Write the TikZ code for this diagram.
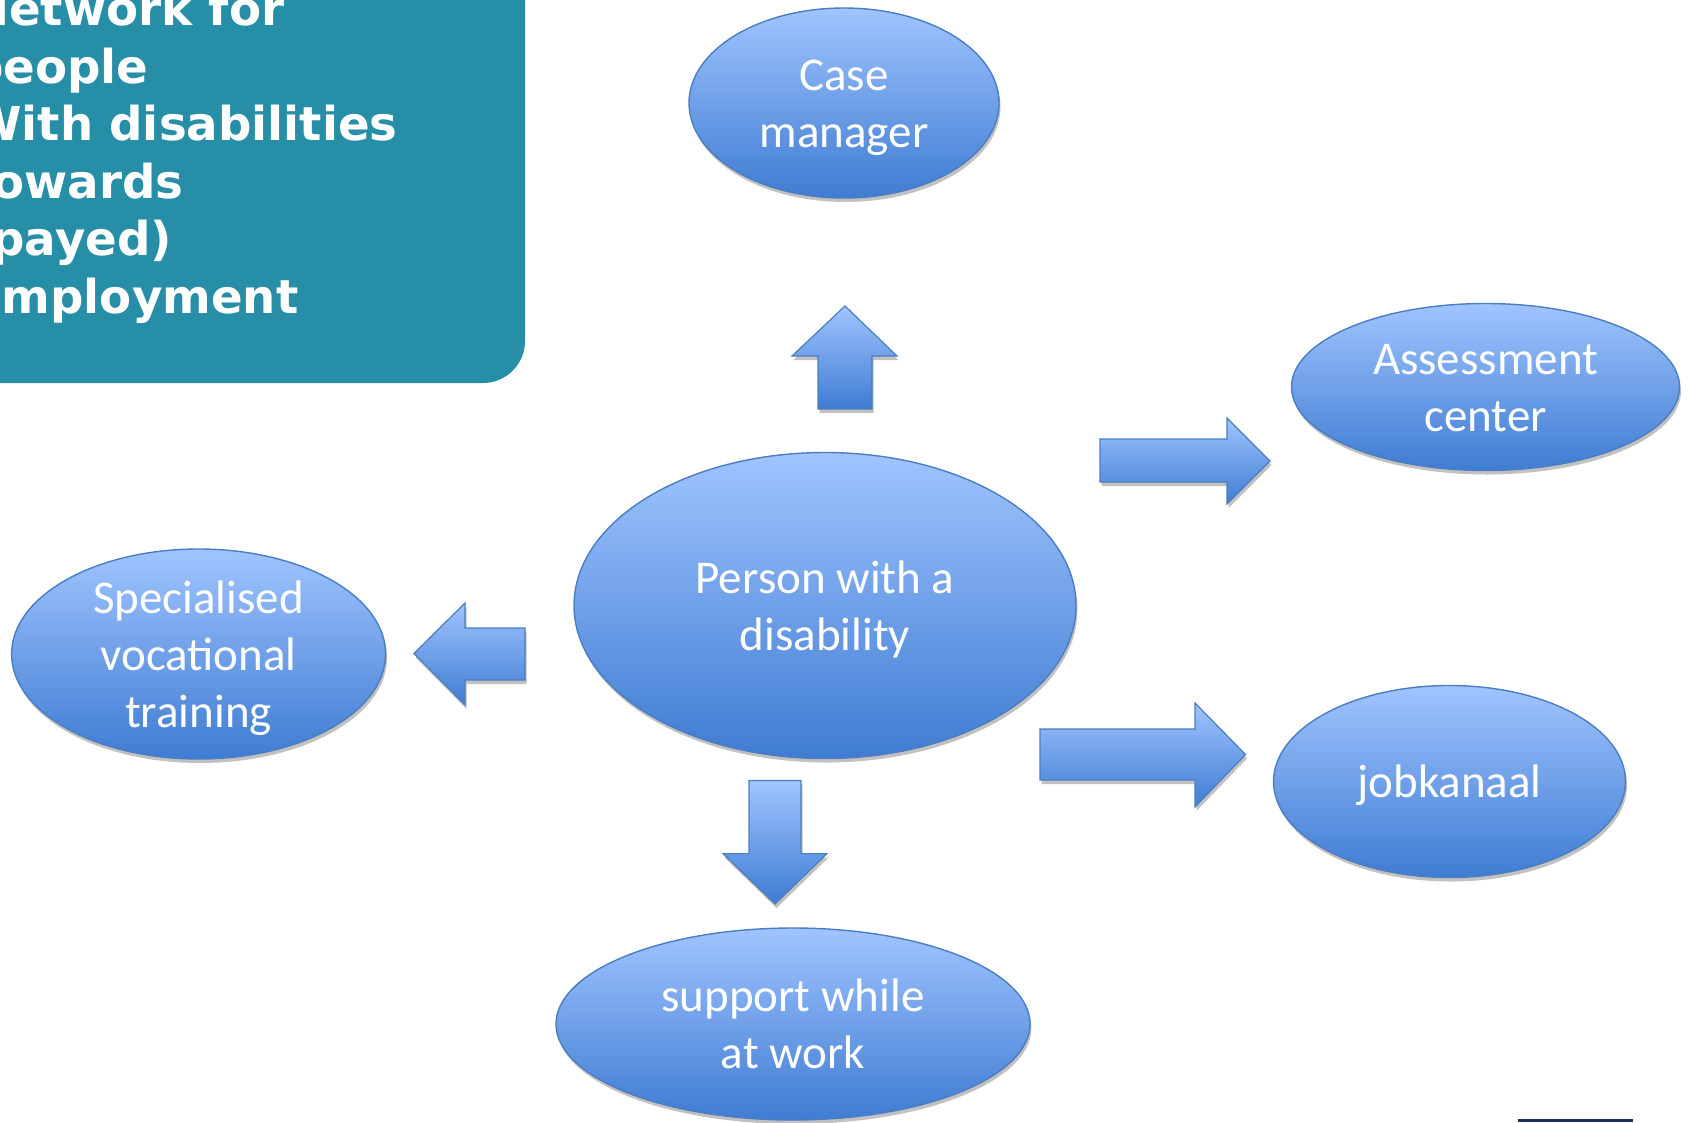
\documentclass[tikz,border=0pt]{standalone}
\usepackage{fontspec}
\newfontfamily\bubblefont{Carlito}
\newfontfamily\headfont{DejaVu Sans}
\usetikzlibrary{shapes.geometric,shadows}
\definecolor{headteal}{HTML}{278EA8}
\definecolor{bubtop}{HTML}{A0C4FF}
\definecolor{bubbot}{HTML}{3F7CD2}
\definecolor{bubline}{HTML}{4A7EC0}
\definecolor{rulenavy}{HTML}{1F2D5C}
% line struts: every text line gets the same fixed ascent and descent
\newcommand\bstrut{\rule[-12.5pt]{0pt}{57pt}}
\newcommand\hstrut{\rule[-13.5pt]{0pt}{57.5pt}}
\begin{document}
\begin{tikzpicture}[x=1pt,y=-1pt,
  softshadow/.style={drop shadow={shadow xshift=1.5pt, shadow yshift=-4pt, opacity=.35, fill=black!70}},
  bubble/.style={ellipse, draw=bubline, line width=1.4pt, top color=bubtop, bottom color=bubbot, softshadow, inner sep=0pt},
  lbl/.style={font=\bubblefont\fontsize{47}{57}\selectfont, text=white, align=center, inner sep=0pt},
  blockarrow/.style={draw=bubline, line width=1.2pt, line join=miter, top color=bubtop, bottom color=bubbot, softshadow},
]
\useasboundingbox (0,0) rectangle (1688,1122);
\clip (0,0) rectangle (1688,1122);

% heading panel
\fill[headteal] (-20,-20) -- (525,-20) [rounded corners=42pt] -- (525,383) [sharp corners] -- (-20,383) -- cycle;
\node[anchor=north west, inner sep=0pt, align=left, text=white,
      font=\headfont\bfseries\fontsize{46.7}{57.5}\selectfont] (head) at (-30,-18.3)
  {\hstrut Network for\\\hstrut people\\\hstrut With disabilities\\\hstrut towards\\\hstrut (payed)\\\hstrut employment};

% bubbles
\node[bubble, minimum width=310, minimum height=190] (cm) at (844,103) {};
\node[lbl] (cmT) at (cm.center) {\bstrut Case\\\bstrut manager};

\node[bubble, minimum width=502, minimum height=306] (pd) at (825,605.5) {};
\node[lbl] (pdT) at (pd.center) {\bstrut Person with a\\\bstrut disability};

\node[bubble, minimum width=388, minimum height=167] (ac) at (1485.5,387) {};
\node[lbl] (acT) at (ac.center) {\bstrut Assessment\\\bstrut center};

\node[bubble, minimum width=374, minimum height=210] (sv) at (198.6,654) {};
\node[lbl] (svT) at (sv.center) {\bstrut Specialised\\\bstrut vocational\\\bstrut training};

\node[bubble, minimum width=352, minimum height=192] (jk) at (1449.5,781.5) {};
\node[lbl] (jkT) at (jk.center) {\bstrut jobkanaal};

\node[bubble, minimum width=474, minimum height=192] (sw) at (793,1024) {};
\node[lbl] (swT) at (sw.center) {\bstrut support while\\\bstrut at work};

% block arrows from the person outwards
\path[blockarrow] (845,306) -- (897,356) -- (872,356) -- (872,409) -- (818,409) -- (818,356) -- (792,356) -- cycle;
\path[blockarrow] (1100,439) -- (1227,439) -- (1227,418) -- (1270,461) -- (1227,504) -- (1227,482) -- (1100,482) -- cycle;
\path[blockarrow] (414,653.5) -- (465,603) -- (465,628) -- (525,628) -- (525,680) -- (465,680) -- (465,705) -- cycle;
\path[blockarrow] (1040,729) -- (1195,729) -- (1195,703) -- (1245.5,754.5) -- (1195,807) -- (1195,780) -- (1040,780) -- cycle;
\path[blockarrow] (749,780.5) -- (801,780.5) -- (801,853.6) -- (827,853.6) -- (775,904) -- (723,853.6) -- (749,853.6) -- cycle;

% short rule in the lower right
\coordinate (ruleA) at (1518,1120.5);
\coordinate (ruleB) at (1633,1120.5);
\draw[rulenavy, line width=2.2pt] (ruleA) -- (ruleB);
\end{tikzpicture}
\end{document}
